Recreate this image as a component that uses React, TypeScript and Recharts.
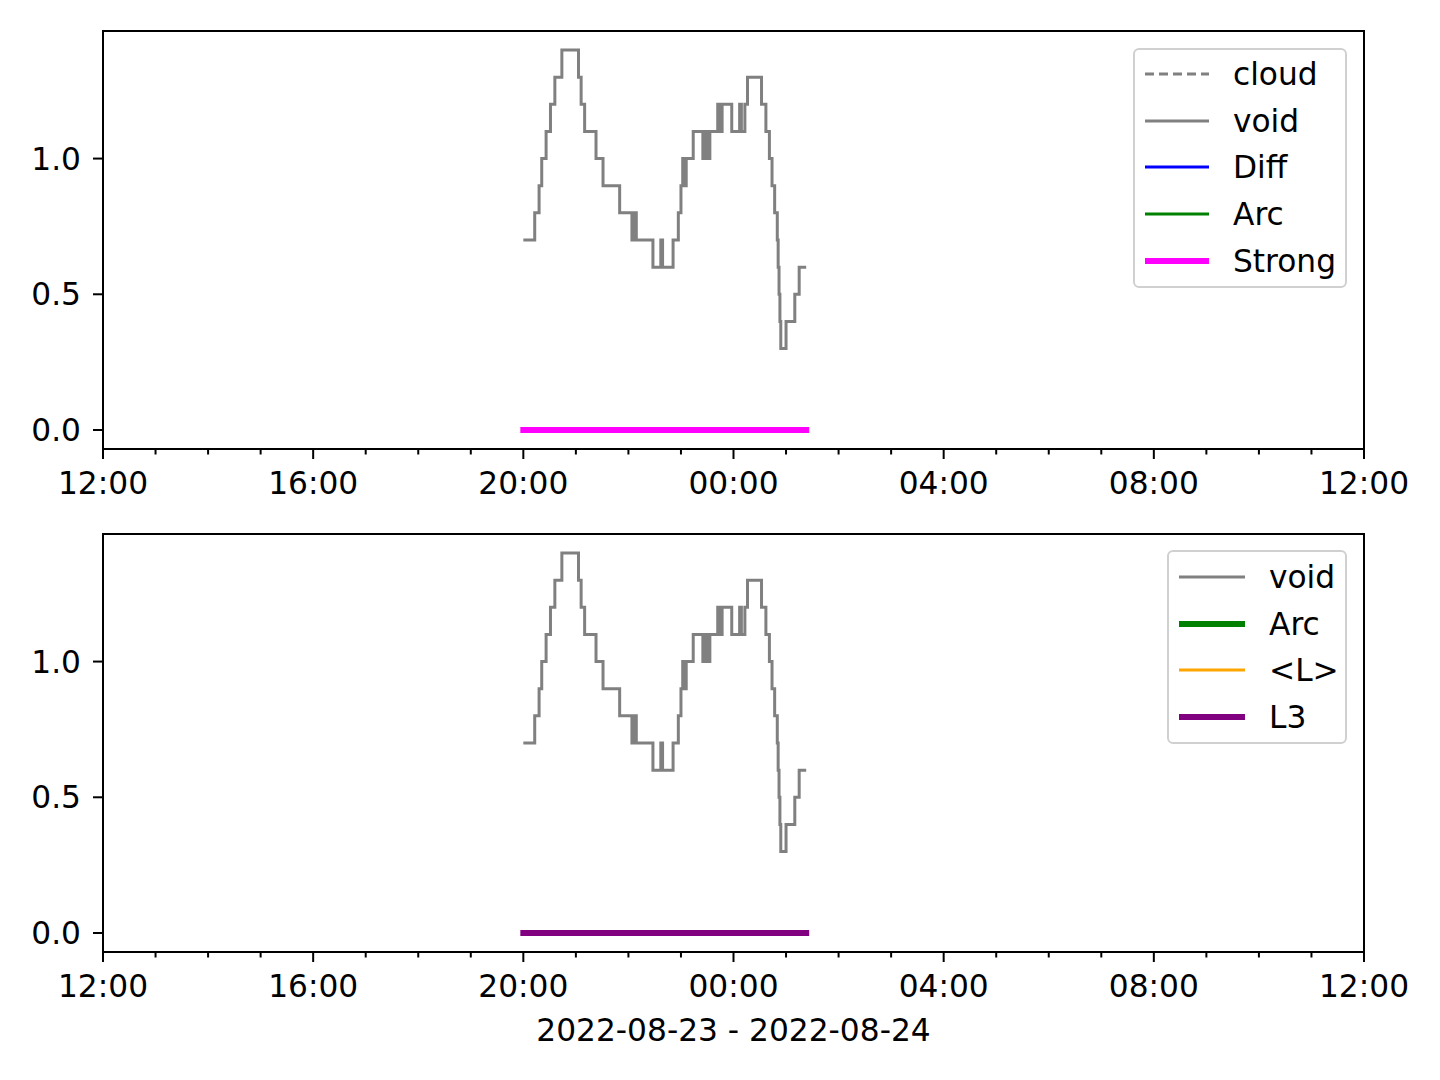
import React from "react";
import { LineChart, Line, XAxis, YAxis, ReferenceArea, Legend } from "recharts";

// minutes after 20:00 (2022-08-23)
const voidMinutes = [
  0, 13, 18, 21, 26, 31, 36, 44, 63, 66, 70, 83, 91, 110, 124, 126, 129, 148,
  157, 159, 171, 177, 180, 182, 184, 186, 194, 205, 207, 210, 213, 222, 225,
  227, 238, 247, 249, 253, 256, 272, 277, 281, 284, 287, 290, 291, 292, 293,
  294, 300, 310, 315, 323,
];
const voidValues = [
  0.7, 0.8, 0.9, 1.0, 1.1, 1.2, 1.3, 1.4, 1.3, 1.2, 1.1, 1.0, 0.9, 0.8, 0.7,
  0.8, 0.7, 0.6, 0.7, 0.6, 0.7, 0.8, 0.9, 1.0, 0.9, 1.0, 1.1, 1.0, 1.1, 1.0,
  1.1, 1.2, 1.1, 1.2, 1.1, 1.2, 1.1, 1.2, 1.3, 1.2, 1.1, 1.0, 0.9, 0.8, 0.7,
  0.6, 0.5, 0.4, 0.3, 0.4, 0.5, 0.6, 0.6,
];
const strongMinutes = [0, 323];
const strongValues = [0, 0];
const l3Minutes = [0, 323];
const l3Values = [0, 0];

const topLegend = [
  { name: "cloud", color: "#808080", width: 3, dash: "9 5" },
  { name: "void", color: "#808080", width: 3 },
  { name: "Diff", color: "#0000ff", width: 3 },
  { name: "Arc", color: "#008000", width: 3 },
  { name: "Strong", color: "#ff00ff", width: 6 },
];
const bottomLegend = [
  { name: "void", color: "#808080", width: 3 },
  { name: "Arc", color: "#008000", width: 6 },
  { name: "<L>", color: "#ffa500", width: 3 },
  { name: "L3", color: "#800080", width: 6 },
];

const yTicks = [0, 0.5, 1.0];
const majorLabels = ["12:00", "16:00", "20:00", "00:00", "04:00", "08:00", "12:00"];
const dateLabel = "2022-08-23 - 2022-08-24";

const START = 480; // 20:00 sits 480 minutes after the 12:00 left edge
const hourTicks = Array.from({ length: 25 }, (_, i) => i * 60);
const Y_DOMAIN: [number, number] = [-0.07, 1.47];
const FONT = "DejaVu Sans";
const FS = 31.25;

const rows = (mins: number[], vals: number[]) =>
  mins.map((m, i) => ({ t: START + m, v: vals[i] }));

const voidData = rows(voidMinutes, voidValues);
const strongData = rows(strongMinutes, strongValues);
const l3Data = rows(l3Minutes, l3Values);

const HourTick = (props: any) => {
  const { x, y, payload } = props;
  const major = payload.value % 240 === 0;
  return (
    <g>
      <line x1={x} x2={x} y1={y} y2={y + (major ? 10 : 5.5)} stroke="#000" strokeWidth={2} />
      {major && (
        <text x={x} y={y + 45} textAnchor="middle" fontSize={FS} fill="#000" fontFamily={FONT}>
          {majorLabels[payload.value / 240]}
        </text>
      )}
    </g>
  );
};

type Item = { name: string; color: string; width: number; dash?: string };

const legendBox = (items: Item[], lineW: number, gap: number, first: number) => () => (
  <div
    style={{
      width: "100%",
      height: "100%",
      boxSizing: "border-box",
      border: "2px solid #d0d0d0",
      borderRadius: 6,
      background: "rgba(255,255,255,0.8)",
      fontFamily: FONT,
      fontSize: FS,
      position: "relative",
    }}
  >
    {items.map((it, i) => (
      <div
        key={it.name}
        style={{
          position: "absolute",
          left: 10,
          top: first + i * 46.7 - 20,
          height: 40,
          display: "flex",
          alignItems: "center",
          whiteSpace: "nowrap",
        }}
      >
        <svg width={lineW} height={12} style={{ display: "block" }}>
          <line x1={0} x2={lineW} y1={6} y2={6} stroke={it.color} strokeWidth={it.width} strokeDasharray={it.dash} />
        </svg>
        <span style={{ marginLeft: gap, lineHeight: "40px" }}>{it.name}</span>
      </div>
    ))}
  </div>
);

const PLOT_H = 418;

function Panel({
  top,
  height,
  children,
  legend,
  legendStyle,
  xLabel,
}: {
  top: number;
  height: number;
  children: React.ReactNode;
  legend: any;
  legendStyle: React.CSSProperties;
  xLabel?: string;
}) {
  const xh = height - 31 - PLOT_H;
  return (
    <div style={{ position: "absolute", left: 0, top }}>
      <LineChart
        width={1440}
        height={height}
        margin={{ top: 31, right: 76, left: 0, bottom: 0 }}
        style={{ fontFamily: FONT }}
      >
        <XAxis
          dataKey="t"
          type="number"
          domain={[0, 1440]}
          ticks={hourTicks}
          interval={0}
          allowDataOverflow
          axisLine={false}
          tickLine={false}
          tickSize={0}
          tickMargin={0}
          height={xh}
          tick={<HourTick />}
          label={
            xLabel
              ? { value: xLabel, position: "insideBottom", offset: xh - 89, fill: "#000", fontSize: FS, fontFamily: FONT }
              : undefined
          }
        />
        <YAxis
          type="number"
          domain={Y_DOMAIN}
          ticks={yTicks}
          allowDataOverflow
          width={103}
          axisLine={false}
          tickSize={10}
          tickMargin={12}
          tickLine={{ stroke: "#000", strokeWidth: 2 }}
          tick={{ fill: "#000", fontSize: FS, fontFamily: FONT }}
          tickFormatter={(v: number) => v.toFixed(1)}
        />
        {children}
        <ReferenceArea
          x1={0}
          x2={1440}
          y1={Y_DOMAIN[0]}
          y2={Y_DOMAIN[1]}
          fill="none"
          fillOpacity={0}
          stroke="#000"
          strokeWidth={2}
          ifOverflow="visible"
        />
        <Legend
          layout="horizontal"
          verticalAlign="middle"
          align="center"
          content={legend}
          wrapperStyle={legendStyle}
        />
      </LineChart>
    </div>
  );
}

export default function App() {
  return (
    <div style={{ position: "absolute", left: 0, top: 0, width: 1440, height: 1080, background: "#fff" }}>
      <Panel
        top={0}
        height={540}
        legend={legendBox(topLegend, 64, 24, 24)}
        legendStyle={{ left: 1133, top: 48, width: 214, height: 240 }}
      >
        <Line data={voidData} dataKey="v" type="stepAfter" stroke="#808080" strokeWidth={3} dot={false} isAnimationActive={false} />
        <Line data={strongData} dataKey="v" type="linear" stroke="#ff00ff" strokeWidth={6} strokeLinecap="square" dot={false} isAnimationActive={false} />
      </Panel>
      <Panel
        top={503}
        height={577}
        legend={legendBox(bottomLegend, 66, 24, 25)}
        legendStyle={{ left: 1167, top: 47, width: 180, height: 194 }}
        xLabel={dateLabel}
      >
        <Line data={voidData} dataKey="v" type="stepAfter" stroke="#808080" strokeWidth={3} dot={false} isAnimationActive={false} />
        <Line data={l3Data} dataKey="v" type="linear" stroke="#800080" strokeWidth={6} strokeLinecap="square" dot={false} isAnimationActive={false} />
      </Panel>
    </div>
  );
}
